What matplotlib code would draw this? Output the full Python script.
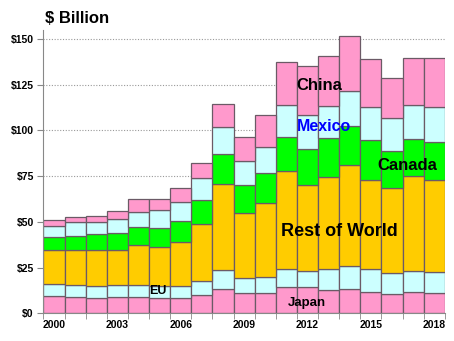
import numpy as np
import matplotlib
matplotlib.use("Agg")
import matplotlib.pyplot as plt

plt.rcParams['font.family'] = ['Liberation Sans', 'DejaVu Sans']
plt.rcParams['font.weight'] = 'bold'

years = list(range(2000, 2019))

# $ billion by destination, stacked bottom to top
japan = [9.5, 8.7, 8.2, 8.7, 8.7, 8.2, 8.2, 9.8, 13.1, 11.1,
         10.9, 14.2, 14.2, 12.7, 13.1, 11.8, 10.5, 11.8, 10.9]
eu = [6.3, 6.6, 6.6, 6.6, 6.6, 6.9, 6.9, 7.8, 10.4, 8.0,
      8.8, 9.8, 8.8, 11.3, 12.7, 12.2, 11.4, 11.5, 11.8]
rest_of_world = [18.6, 19.1, 19.6, 19.1, 21.9, 21.3, 23.7, 31.0, 47.0, 35.5,
                 40.7, 53.6, 46.9, 50.3, 55.1, 49.0, 46.7, 51.7, 50.0]
canada = [7.1, 7.8, 8.8, 9.3, 10.0, 10.4, 11.6, 13.1, 16.4, 15.3,
          16.4, 18.6, 19.7, 21.3, 21.6, 21.7, 20.3, 20.4, 21.1]
mexico = [6.2, 7.5, 6.9, 7.7, 8.0, 9.5, 10.3, 12.1, 14.7, 13.2,
          13.9, 17.5, 18.8, 17.7, 19.1, 18.2, 17.7, 18.3, 19.1]
china = [3.1, 2.8, 2.9, 4.3, 7.1, 6.0, 7.6, 8.2, 12.6, 13.1,
         17.5, 23.5, 26.7, 27.3, 30.1, 25.9, 22.1, 26.0, 26.4]

series = [japan, eu, rest_of_world, canada, mexico, china]
colors = ['#FF99CC', '#CCFFFF', '#FFCC00', '#00FF00', '#CCFFFF', '#FF99CC']

fig = plt.figure(figsize=(4.54, 3.41), dpi=100)
ax = fig.add_axes([0.0958, 0.0812, 0.884, 0.832])

x = np.arange(len(years))
bottom = np.zeros(len(years))
for vals, c in zip(series, colors):
    ax.bar(x, vals, width=1.0, bottom=bottom, color=c,
           edgecolor='#6b5a66', linewidth=0.9, zorder=3)
    bottom += np.array(vals)

ax.set_xlim(-0.5, len(years) - 0.5)
ax.set_ylim(0, 155)

# y axis in dollars
ax.set_yticks(np.arange(0, 151, 25))
ax.set_yticklabels([f'${v}' for v in range(0, 151, 25)], fontsize=7.5)
ax.yaxis.grid(True, linestyle=(0, (1, 1.5)), color='#999999', linewidth=0.8, zorder=0)

# year labels every 3 years, tick marks at bar boundaries
ax.set_xticks(x[::3])
ax.set_xticklabels([str(y) for y in years[::3]], fontsize=7.5)
ax.tick_params(axis='x', length=0, pad=5)
ax.set_xticks(np.arange(-0.5, len(years)), minor=True)
ax.tick_params(axis='x', which='minor', length=4, color='#888888')
ax.tick_params(axis='y', length=4, color='#888888', pad=3)

for s in ['top', 'right']:
    ax.spines[s].set_visible(False)
for s in ['left', 'bottom']:
    ax.spines[s].set_color('#888888')
    ax.spines[s].set_zorder(4)

fig.text(0.10, 0.945, '$ Billion', fontsize=12, fontweight='bold', ha='left', va='center')

ax.text(12.56, 124.5, 'China', fontsize=12, ha='center', va='center', zorder=5)
ax.text(12.8, 102.0, 'Mexico', fontsize=11.5, color='#0000FF', ha='center', va='center', zorder=5)
ax.text(16.73, 81.0, 'Canada', fontsize=12, ha='center', va='center', zorder=5)
ax.text(13.53, 44.7, 'Rest of World', fontsize=13, ha='center', va='center', zorder=5)
ax.text(4.93, 12.2, 'EU', fontsize=9, ha='center', va='center', zorder=5)
ax.text(11.97, 5.9, 'Japan', fontsize=9.5, ha='center', va='center', zorder=5)

fig.savefig('out.png', dpi=100)
